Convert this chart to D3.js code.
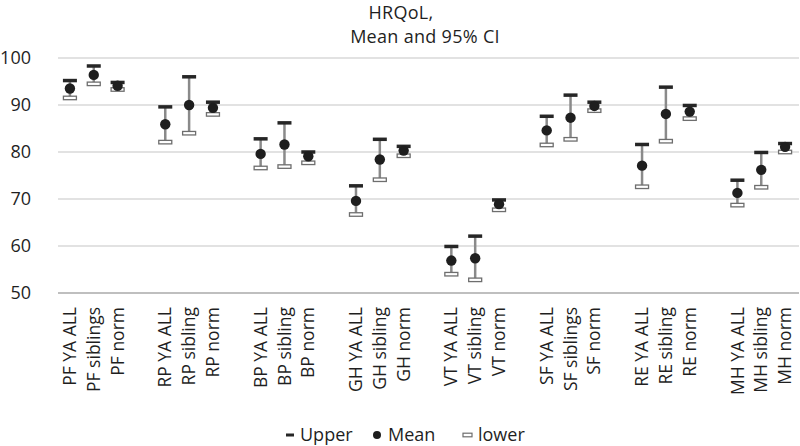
<!DOCTYPE html>
<html>
<head>
<meta charset="utf-8">
<script src="https://cdn.jsdelivr.net/npm/d3@7"></script>
<style>
  html, body { margin: 0; padding: 0; background: #fff; }
  svg { display: block; font-family: "Open Sans", "Noto Sans", sans-serif; }
</style>
</head>
<body>
<svg id="chart" width="800" height="446"></svg>
<script>
// ---- data (null = empty spacer slot between groups) ----
const categories = [
  "PF YA ALL", "PF siblings", "PF norm", null,
  "RP YA ALL", "RP sibling", "RP norm", null,
  "BP YA ALL", "BP sibling", "BP norm", null,
  "GH YA ALL", "GH sibling", "GH norm", null,
  "VT YA ALL", "VT sibling", "VT norm", null,
  "SF YA ALL", "SF siblings", "SF norm", null,
  "RE YA ALL", "RE sibling", "RE norm", null,
  "MH YA ALL", "MH sibling", "MH norm"
];
const upperValues = [
  95.2, 98.3, 94.8, null,
  89.6, 96.0, 90.6, null,
  82.8, 86.2, 80.0, null,
  72.8, 82.7, 81.2, null,
  59.9, 62.1, 69.8, null,
  87.6, 92.1, 90.6, null,
  81.6, 93.8, 89.9, null,
  74.0, 79.9, 81.8
];
const meanValues = [
  93.5, 96.4, 94.1, null,
  85.9, 90.0, 89.4, null,
  79.6, 81.6, 79.1, null,
  69.6, 78.4, 80.3, null,
  56.9, 57.4, 68.9, null,
  84.6, 87.3, 89.8, null,
  77.1, 88.1, 88.6, null,
  71.3, 76.2, 81.1
];
const lowerValues = [
  91.5, 94.5, 93.3, null,
  82.1, 84.0, 88.0, null,
  76.6, 76.9, 77.7, null,
  66.7, 74.1, 79.2, null,
  54.0, 52.8, 67.7, null,
  81.5, 82.7, 88.8, null,
  72.6, 82.3, 87.1, null,
  68.7, 72.5, 80.0
];
const yTicks = [50, 60, 70, 80, 90, 100];
const titleLines = ["HRQoL,", "Mean and 95% CI"];
const legendItems = ["Upper", "Mean", "lower"];

// ---- layout ----
const svg = d3.select("#chart");
const plot = { left: 58, right: 797, top: 58, bottom: 293 };
const textColor = "#1f1f1f";

const x = d3.scaleBand()
  .domain(d3.range(categories.length))
  .range([plot.left, plot.right])
  .padding(0);
const y = d3.scaleLinear().domain([50, 100]).range([plot.bottom, plot.top]);

// title
svg.append("text")
  .attr("x", 401).attr("y", 19)
  .attr("text-anchor", "middle")
  .attr("font-size", 18).attr("letter-spacing", 0.3)
  .attr("fill", textColor)
  .text(titleLines[0]);
svg.append("text")
  .attr("x", 425).attr("y", 43)
  .attr("text-anchor", "middle")
  .attr("font-size", 18).attr("letter-spacing", 0.3)
  .attr("fill", textColor)
  .text(titleLines[1]);

// gridlines
svg.append("g").selectAll("line")
  .data(yTicks)
  .join("line")
  .attr("x1", plot.left).attr("x2", 799)
  .attr("y1", d => y(d)).attr("y2", d => y(d))
  .attr("stroke", d => d === 50 ? "#bfbfbf" : "#d9d9d9")
  .attr("stroke-width", d => d === 50 ? 2 : 1.5);

// y axis labels
const yAxis = d3.axisLeft(y).tickValues(yTicks).tickSize(0).tickPadding(0);
const gy = svg.append("g").attr("transform", "translate(31,0)").call(yAxis);
gy.select(".domain").remove();
gy.selectAll("text")
  .attr("font-size", 18)
  .attr("font-family", "\"Open Sans\", sans-serif")
  .attr("fill", textColor);

// x labels (rotated)
const idx = d3.range(categories.length).filter(i => categories[i] !== null);
svg.append("g").selectAll("text")
  .data(idx)
  .join("text")
  .attr("transform", i => `translate(${x(i) + x.bandwidth() / 2},307) rotate(-90)`)
  .attr("text-anchor", "end")
  .attr("dy", "0.35em")
  .attr("font-size", 17.5)
  .attr("fill", textColor)
  .text(i => categories[i]);

// error bars
const pts = idx.map(i => ({ i, cx: x(i) + x.bandwidth() / 2, u: upperValues[i], m: meanValues[i], l: lowerValues[i] }));
const g = svg.append("g");
g.selectAll("line.hl")
  .data(pts)
  .join("line")
  .attr("class", "hl")
  .attr("x1", d => d.cx).attr("x2", d => d.cx)
  .attr("y1", d => y(d.u)).attr("y2", d => y(d.l))
  .attr("stroke", "#8a8a8a").attr("stroke-width", 2.5);

g.selectAll("rect.low")
  .data(pts)
  .join("rect")
  .attr("class", "low")
  .attr("x", d => d.cx - 6.5).attr("y", d => y(d.l) - 1.75)
  .attr("width", 13).attr("height", 3.5)
  .attr("fill", "#fff").attr("stroke", "#6e6e6e").attr("stroke-width", 1.3);

g.selectAll("rect.up")
  .data(pts)
  .join("rect")
  .attr("class", "up")
  .attr("x", d => d.cx - 7).attr("y", d => y(d.u) - 1.75)
  .attr("width", 14).attr("height", 3.5)
  .attr("fill", "#262626");

g.selectAll("circle.mean")
  .data(pts)
  .join("circle")
  .attr("class", "mean")
  .attr("cx", d => d.cx).attr("cy", d => y(d.m))
  .attr("r", 5.2)
  .attr("fill", "#1e1e1e");

// legend
const lg = svg.append("g").attr("font-size", 18).attr("fill", textColor);
const ly = 435;
lg.append("rect").attr("x", 286).attr("y", ly - 1.5).attr("width", 8).attr("height", 3).attr("fill", "#262626");
lg.append("text").attr("x", 300).attr("y", ly).attr("dy", "0.35em").text(legendItems[0]);
lg.append("circle").attr("cx", 377).attr("cy", ly).attr("r", 4).attr("fill", "#1e1e1e");
lg.append("text").attr("x", 388).attr("y", ly).attr("dy", "0.35em").text(legendItems[1]);
lg.append("rect").attr("x", 463).attr("y", ly - 1.8).attr("width", 9).attr("height", 3.6)
  .attr("fill", "#fff").attr("stroke", "#6e6e6e").attr("stroke-width", 1.2);
lg.append("text").attr("x", 478).attr("y", ly).attr("dy", "0.35em").text(legendItems[2]);
</script>
</body>
</html>
